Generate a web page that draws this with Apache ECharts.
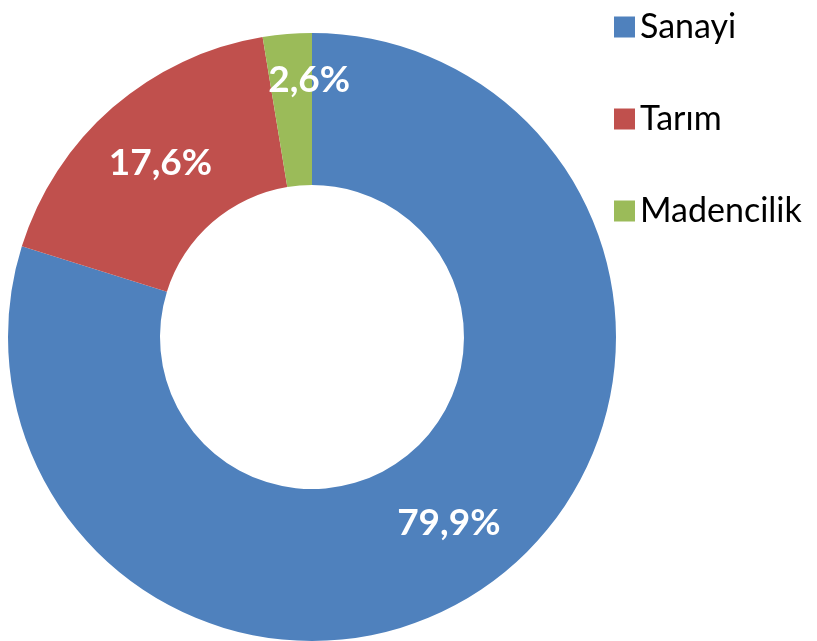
<!DOCTYPE html>
<html>
<head>
<meta charset="utf-8">
<script src="https://cdn.jsdelivr.net/npm/echarts@6/dist/echarts.min.js"></script>
<style>
  html, body { margin: 0; padding: 0; background: #fff; }
  #chart { width: 817px; height: 641px; }
</style>
</head>
<body>
<div id="chart"></div>
<script>
const categories = ['Sanayi', 'Tarım', 'Madencilik']
const values = [79.9, 17.6, 2.6]
const colors = ['#4F81BD', '#C0504D', '#9BBB59']

const chart = echarts.init(document.getElementById('chart'))

const option = {
  animation: false,
  legend: {
    orient: 'vertical',
    left: 609,
    top: 5,
    itemWidth: 21,
    itemHeight: 21,
    itemGap: 58,
    icon: 'rect',
    textStyle: {
      fontFamily: 'Lato',
      fontSize: 34,
      lineHeight: 34,
      color: '#000',
      padding: [0, 0, 0, 0]
    },
    data: categories
  },
  series: [
    {
      type: 'pie',
      center: [312, 337],
      radius: [152, 304],
      startAngle: 90,
      clockwise: true,
      avoidLabelOverlap: false,
      label: {
        show: true,
        position: 'inside',
        color: '#fff',
        fontFamily: 'Lato',
        fontWeight: 'bold',
        fontSize: 37,
        formatter: p => p.value.toFixed(1).replace('.', ',') + '%'
      },
      labelLine: { show: false },
      itemStyle: { borderWidth: 0 },
      emphasis: { disabled: true },
      data: categories.map((name, i) => ({
        name: name,
        value: values[i],
        itemStyle: { color: colors[i] },
        label: i === 2 ? { offset: [16, -27] } : {}
      }))
    }
  ]
}

chart.setOption(option)
</script>
</body>
</html>
